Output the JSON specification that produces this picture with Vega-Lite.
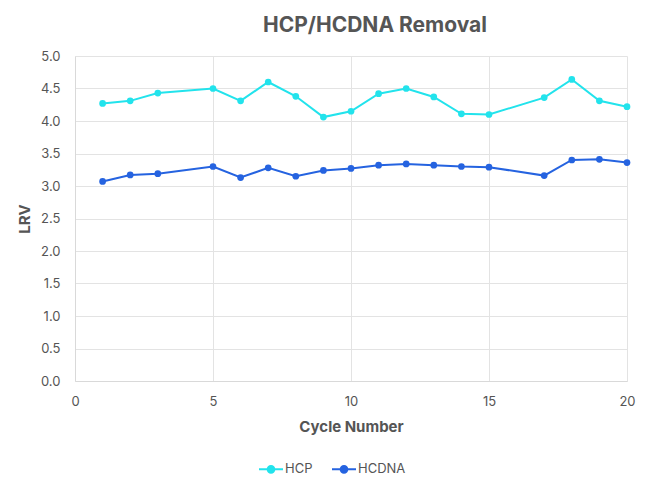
{
  "$schema": "https://vega.github.io/schema/vega-lite/v6.json",
  "description": "HCP and HCDNA log reduction values by cycle number.",
  "width": 552,
  "height": 325,
  "autosize": "none",
  "padding": {"left": 75, "top": 56, "right": 21, "bottom": 104},
  "title": {
    "text": "HCP/HCDNA Removal",
    "fontSize": 21,
    "font": "Inter",
    "fontWeight": "bold",
    "color": "#555555",
    "offset": 14,
    "dx": 24
  },
  "data": {
    "values": [
      {"cycle": 1, "series": "HCP", "lrv": 4.27},
      {"cycle": 2, "series": "HCP", "lrv": 4.31},
      {"cycle": 3, "series": "HCP", "lrv": 4.43},
      {"cycle": 5, "series": "HCP", "lrv": 4.5},
      {"cycle": 6, "series": "HCP", "lrv": 4.31},
      {"cycle": 7, "series": "HCP", "lrv": 4.6},
      {"cycle": 8, "series": "HCP", "lrv": 4.38},
      {"cycle": 9, "series": "HCP", "lrv": 4.06},
      {"cycle": 10, "series": "HCP", "lrv": 4.15},
      {"cycle": 11, "series": "HCP", "lrv": 4.42},
      {"cycle": 12, "series": "HCP", "lrv": 4.5},
      {"cycle": 13, "series": "HCP", "lrv": 4.37},
      {"cycle": 14, "series": "HCP", "lrv": 4.11},
      {"cycle": 15, "series": "HCP", "lrv": 4.1},
      {"cycle": 17, "series": "HCP", "lrv": 4.36},
      {"cycle": 18, "series": "HCP", "lrv": 4.64},
      {"cycle": 19, "series": "HCP", "lrv": 4.31},
      {"cycle": 20, "series": "HCP", "lrv": 4.22},
      {"cycle": 1, "series": "HCDNA", "lrv": 3.07},
      {"cycle": 2, "series": "HCDNA", "lrv": 3.17},
      {"cycle": 3, "series": "HCDNA", "lrv": 3.19},
      {"cycle": 5, "series": "HCDNA", "lrv": 3.3},
      {"cycle": 6, "series": "HCDNA", "lrv": 3.13},
      {"cycle": 7, "series": "HCDNA", "lrv": 3.28},
      {"cycle": 8, "series": "HCDNA", "lrv": 3.15},
      {"cycle": 9, "series": "HCDNA", "lrv": 3.24},
      {"cycle": 10, "series": "HCDNA", "lrv": 3.27},
      {"cycle": 11, "series": "HCDNA", "lrv": 3.32},
      {"cycle": 12, "series": "HCDNA", "lrv": 3.34},
      {"cycle": 13, "series": "HCDNA", "lrv": 3.32},
      {"cycle": 14, "series": "HCDNA", "lrv": 3.3},
      {"cycle": 15, "series": "HCDNA", "lrv": 3.29},
      {"cycle": 17, "series": "HCDNA", "lrv": 3.16},
      {"cycle": 18, "series": "HCDNA", "lrv": 3.4},
      {"cycle": 19, "series": "HCDNA", "lrv": 3.41},
      {"cycle": 20, "series": "HCDNA", "lrv": 3.36}
    ]
  },
  "encoding": {
    "x": {
      "field": "cycle",
      "type": "quantitative",
      "title": "Cycle Number",
      "scale": {"domain": [0, 20], "nice": false},
      "axis": {"values": [0, 5, 10, 15, 20], "labelFlush": false, "labelPadding": 14, "titlePadding": 11}
    },
    "y": {
      "field": "lrv",
      "type": "quantitative",
      "title": "LRV",
      "scale": {"domain": [0, 5], "nice": false},
      "axis": {
        "values": [0, 0.5, 1, 1.5, 2, 2.5, 3, 3.5, 4, 4.5, 5],
        "format": ".1f",
        "labelFlush": false,
        "labelPadding": 15,
        "titlePadding": 8
      }
    },
    "color": {
      "field": "series",
      "type": "nominal",
      "scale": {"domain": ["HCP", "HCDNA"], "range": ["#22E3EC", "#2563E0"]},
      "legend": {
        "title": null,
        "orient": "none",
        "direction": "horizontal",
        "legendX": 183,
        "legendY": 400,
        "symbolType": "M-1,0H1M0.28,0A0.28,0.28,0,1,1,-0.28,0A0.28,0.28,0,1,1,0.28,0",
        "symbolSize": 576,
        "symbolStrokeWidth": 2,
        "labelFontSize": 13,
        "labelColor": "#555555",
        "labelFont": "Inter",
        "labelOffset": 1,
        "columnPadding": 15
      }
    }
  },
  "layer": [
    {"mark": {"type": "line", "strokeWidth": 2}},
    {"mark": {"type": "point", "filled": true, "size": 45, "opacity": 1}}
  ],
  "config": {
    "view": {"stroke": null},
    "font": "Inter",
    "axis": {
      "grid": true,
      "gridColor": "#e3e3e3",
      "domainColor": "#d9d9d9",
      "ticks": false,
      "labelFontSize": 13,
      "labelColor": "#555555",
      "titleFontSize": 15,
      "titleFontWeight": "bold",
      "titleColor": "#555555"
    }
  }
}
